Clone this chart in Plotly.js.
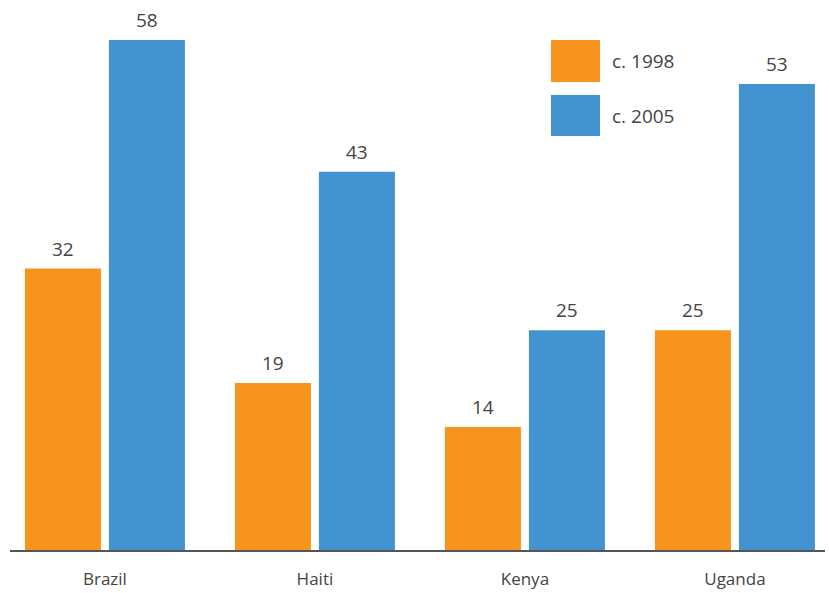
<!DOCTYPE html>
<html>
<head>
<meta charset="utf-8">
<script src="https://cdn.plot.ly/plotly-3.0.1.min.js"></script>
<style>html,body{margin:0;padding:0;background:#fff;}#chart{width:829px;height:593px;}</style>
</head>
<body>
<div id="chart"></div>
<script>
const categories = ["Brazil", "Haiti", "Kenya", "Uganda"];
const seriesNames = ["c. 1998", "c. 2005"];
const values1998 = [32, 19, 14, 25];
const values2005 = [58, 43, 25, 53];
const colors = ["#F7941D", "#4393D1"];

const FONT = "'Open Sans', Lato, sans-serif";
const series = [values1998, values2005];

const traces = series.map((vals, i) => ({
  type: "bar",
  x: categories,
  y: vals,
  name: seriesNames[i],
  marker: {color: colors[i], line: {width: 0}},
  hoverinfo: "none"
}));

// value labels above bars
const annotations = [];
series.forEach((vals, i) => {
  vals.forEach((v, j) => {
    annotations.push({
      x: categories[j], y: v, xref: "x", yref: "y",
      text: String(v), showarrow: false,
      xanchor: "center", yanchor: "bottom",
      xshift: (i === 0 ? -42 : 42), yshift: 5,
      font: {family: FONT, size: 19, color: "#444"}
    });
  });
});

// custom legend
const shapes = [];
const legBoxes = [[0.9623, 0.8830], [0.8585, 0.7811]];
legBoxes.forEach((b, i) => {
  shapes.push({type: "rect", xref: "paper", yref: "paper",
    x0: 0.6638, x1: 0.7239, y0: b[1], y1: b[0],
    fillcolor: colors[i], line: {width: 0}});
  annotations.push({xref: "paper", yref: "paper", x: 0.7362, y: (b[0] + b[1]) / 2,
    text: seriesNames[i], showarrow: false, xanchor: "left", yanchor: "middle",
    font: {family: FONT, size: 19, color: "#444"}});
});

const layout = {
  width: 829, height: 593,
  margin: {l: 10, r: 4, t: 20, b: 43},
  paper_bgcolor: "#fff", plot_bgcolor: "#fff",
  barmode: "group", bargap: 0.2, bargroupgap: 0.095,
  showlegend: false,
  xaxis: {
    range: [-0.452, 3.429],
    showline: true, linecolor: "#555", linewidth: 1.5,
    ticks: "", showgrid: false, zeroline: false,
    ticklabelstandoff: 13,
    tickfont: {family: FONT, size: 17, color: "#444"}
  },
  yaxis: {
    range: [0, 60.27], visible: false, showgrid: false, zeroline: false
  },
  annotations: annotations,
  shapes: shapes
};

Plotly.newPlot("chart", traces, layout, {displayModeBar: false, staticPlot: true});
</script>
</body>
</html>
